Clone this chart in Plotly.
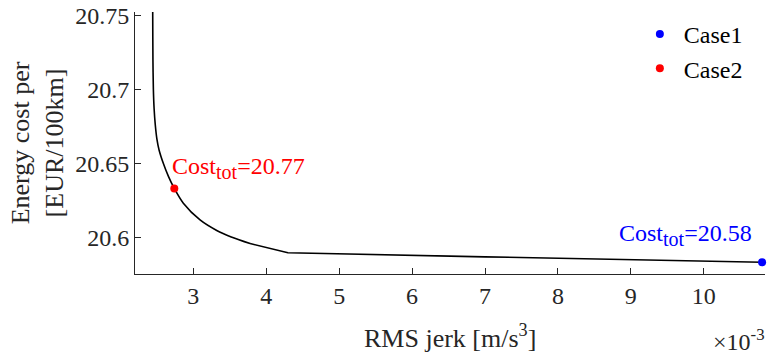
import plotly.graph_objects as go

# Trade-off curve: RMS jerk (x10^-3 m/s^3) vs energy cost (EUR/100km)
rms_jerk_e3 = [2.442, 2.443, 2.446, 2.452, 2.462, 2.478, 2.500, 2.530, 2.588, 2.660,
               2.739, 2.863, 3.092, 3.321, 3.520, 3.778, 4.297, 7.000, 10.800]
energy_cost = [20.780, 20.750, 20.720, 20.700, 20.687, 20.676, 20.6665, 20.659, 20.650, 20.641,
               20.633, 20.623, 20.6117, 20.6046, 20.6002, 20.5958, 20.5896, 20.5868, 20.5831]
# index where the smooth part of the front ends and the straight segments begin
SMOOTH_END = 15

# Highlighted cases
case_names = ["Case1", "Case2"]
case_x = [10.800, 2.739]
case_y = [20.5831, 20.633]
case_colors = ["#0000ff", "#ff0000"]
case_total_cost = ["20.58", "20.77"]

x_ticks = [3, 4, 5, 6, 7, 8, 9, 10]
y_ticks = [20.6, 20.65, 20.7, 20.75]
y_tick_text = ["20.6", "20.65", "20.7", "20.75"]

FONT = "Liberation Serif"
INK = "#262626"

fig = go.Figure()
fig.add_trace(go.Scatter(x=rms_jerk_e3[:SMOOTH_END + 1], y=energy_cost[:SMOOTH_END + 1],
                         mode="lines",
                         line=dict(color="black", width=1.6, shape="spline", smoothing=0.8),
                         showlegend=False, hoverinfo="skip"))
fig.add_trace(go.Scatter(x=rms_jerk_e3[SMOOTH_END:], y=energy_cost[SMOOTH_END:],
                         mode="lines", line=dict(color="black", width=1.6),
                         showlegend=False, hoverinfo="skip"))
for name, cx, cy, col in zip(case_names, case_x, case_y, case_colors):
    fig.add_trace(go.Scatter(x=[cx], y=[cy], mode="markers", name=name,
                             marker=dict(color=col, size=8), cliponaxis=False))

# Total-cost labels next to the highlighted points
fig.add_annotation(x=case_x[1], y=case_y[1], xref="x", yref="y",
                   text="Cost<sub><span style='font-size:20px'>tot</span></sub>=" + case_total_cost[1],
                   showarrow=False, xanchor="left", yanchor="bottom",
                   xshift=-4, yshift=3,
                   font=dict(family=FONT, size=24, color=case_colors[1]))
fig.add_annotation(x=case_x[0], y=case_y[0], xref="x", yref="y",
                   text="Cost<sub><span style='font-size:20px'>tot</span></sub>=" + case_total_cost[0],
                   showarrow=False, xanchor="right", yanchor="bottom",
                   xshift=-8, yshift=10,
                   font=dict(family=FONT, size=24, color=case_colors[0]))

# Axis titles and exponent label
fig.add_annotation(x=-0.155, y=0.5, xref="paper", yref="paper",
                   text="Energy cost per<br>[EUR/100km]", textangle=-90,
                   showarrow=False, xanchor="center", yanchor="middle",
                   font=dict(family=FONT, size=26, color=INK))
fig.add_annotation(x=0.5, y=0, xref="paper", yref="paper",
                   text="RMS jerk [m/s<sup>3</sup>]", showarrow=False,
                   xanchor="center", yanchor="top", yshift=-44,
                   font=dict(family=FONT, size=26, color=INK))
fig.add_annotation(x=1, y=0, xref="paper", yref="paper",
                   text="\u00d710<sup>-3</sup>", showarrow=False,
                   xanchor="right", yanchor="top", xshift=2, yshift=-49,
                   font=dict(family=FONT, size=24, color=INK))

fig.update_layout(
    width=767, height=355,
    margin=dict(l=135, r=2, t=12, b=81),
    paper_bgcolor="white", plot_bgcolor="white",
    font=dict(family=FONT, size=24, color=INK),
    legend=dict(x=0.795, y=1.0, xanchor="left", yanchor="top", itemwidth=38,
                bgcolor="rgba(0,0,0,0)", font=dict(family=FONT, size=24, color="black")),
    xaxis=dict(range=[2.2, 10.84], tickvals=x_ticks, ticks="inside", ticklen=6,
               tickcolor=INK, showline=True, linecolor=INK, linewidth=1,
               showgrid=False, zeroline=False,
               tickfont=dict(family=FONT, size=24, color=INK)),
    yaxis=dict(range=[20.5752, 20.7522], tickvals=y_ticks, ticktext=y_tick_text,
               ticks="inside", ticklen=6, tickcolor=INK, showline=True,
               linecolor=INK, linewidth=1, showgrid=False, zeroline=False,
               tickfont=dict(family=FONT, size=24, color=INK)),
)

fig.write_html("out.html")
